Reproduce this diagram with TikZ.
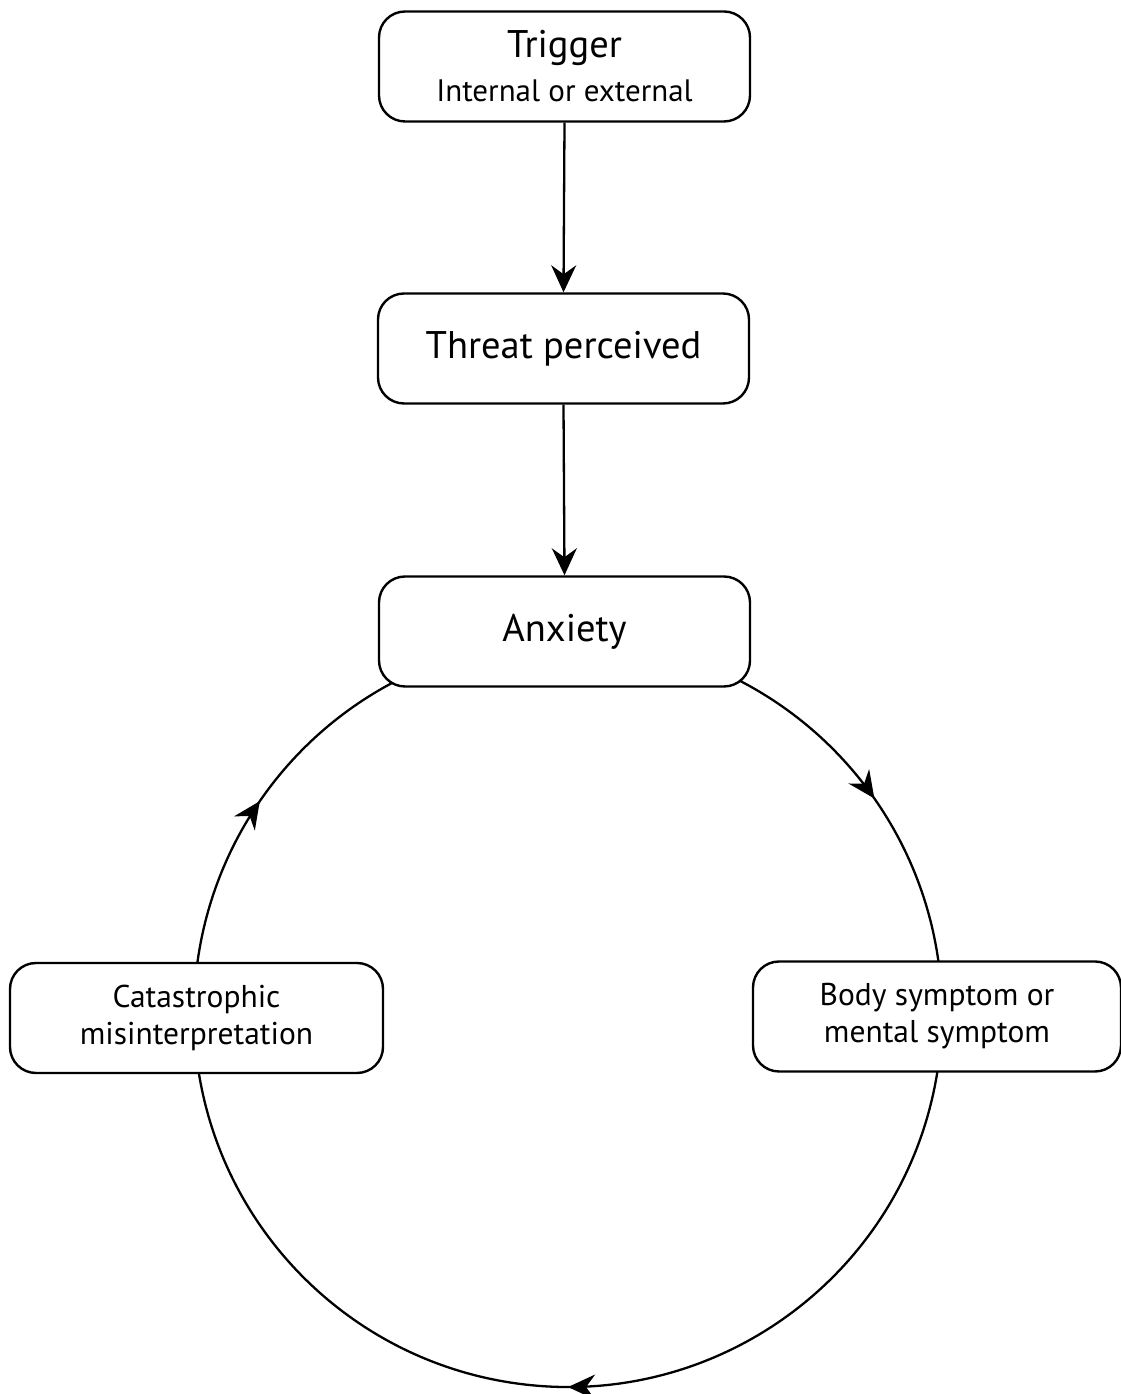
\documentclass[tikz,border=0pt]{standalone}
\usepackage{fontspec}
\setmainfont{PT Sans}
\usetikzlibrary{arrows.meta,decorations.markings}
\begin{document}
\begin{tikzpicture}[x=1pt,y=1pt,
  box/.style={draw, line width=2.4pt, rounded corners=26pt, fill=white,
    minimum width=371pt, minimum height=110pt, align=center, inner sep=0pt},
  bigtxt/.style={font=\fontsize{38.5}{44}\selectfont},
  smalltxt/.style={font=\fontsize{31.5}{37}\selectfont},
  flow/.style={line width=2.3pt, -{Stealth[length=27pt,width=25pt,inset=9pt]}},
  cyc/.style={line width=2.3pt, postaction={decorate},
    decoration={markings, mark=at position 0.5 with {\arrow{Stealth[length=27pt,width=25pt,inset=9pt]}}}}]
\useasboundingbox (0,0) rectangle (1121,1394);
\coordinate (O) at (568,381);
% cycle arcs (drawn first, boxes cover their ends)
\draw[cyc] ([shift={(174:374)}]O) arc[start angle=174, end angle=117, radius=374];
\draw[cyc] ([shift={(64:374)}]O) arc[start angle=64, end angle=6, radius=374];
\draw[cyc] ([shift={(-7:374)}]O) arc[start angle=-7, end angle=-173, radius=374];
% boxes
\node[box, font=\fontsize{31}{44}\selectfont] (trig) at (564.5,1327.5) {{\fontsize{38.5}{44}\selectfont Trigger}\\Internal or external};
\node[box, bigtxt] (threat) at (563.5,1045.5) {Threat perceived};
\node[box, bigtxt] (anx) at (564.5,762.5) {Anxiety};
\node[box, smalltxt, minimum width=373pt] (cat) at (196.5,376) {Catastrophic\\misinterpretation};
\node[box, smalltxt, minimum width=368pt] (body) at (937,377.5) {Body symptom or\\mental symptom};
% straight arrows
\draw[flow] (trig.south) -- (threat.north);
\draw[flow] (threat.south) -- (anx.north);
\end{tikzpicture}
\end{document}
